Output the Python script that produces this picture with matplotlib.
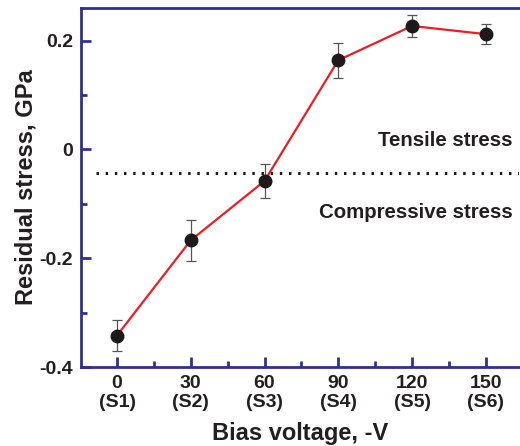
import matplotlib
matplotlib.use("Agg")
import matplotlib.pyplot as plt
from matplotlib.ticker import MultipleLocator

# data
bias = [0, 30, 60, 90, 120, 150]
samples = ["S1", "S2", "S3", "S4", "S5", "S6"]
stress = [-0.342, -0.167, -0.058, 0.164, 0.227, 0.212]
stress_err = [0.029, 0.038, 0.031, 0.032, 0.021, 0.018]
boundary = -0.044

plt.rcParams['font.family'] = ['Liberation Sans', 'DejaVu Sans']
plt.rcParams['font.weight'] = 'bold'

navy = '#2e3192'

fig = plt.figure(figsize=(5.2, 4.46), dpi=100)
ax = fig.add_axes([0.156, 0.177, 0.842, 0.805])

ax.errorbar(bias, stress, yerr=stress_err, fmt='none', ecolor='#555555',
            elinewidth=0.9, capsize=3.5, capthick=0.9, zorder=2)
ax.plot(bias, stress, color='#ee1c25', lw=1.6, zorder=3)
ax.plot(bias, stress, 'o', color='#1e1a1b', ms=9, zorder=4)

ax.plot([-8.5, 163.5], [boundary, boundary], ls=(0, (0.8, 2.2)),
        color='#1e1a1b', lw=2.2, zorder=1)

ax.text(161, 0.016, 'Tensile stress', ha='right', va='center',
        fontsize=14.7, fontweight='bold', color='#231f20')
ax.text(161, -0.116, 'Compressive stress', ha='right', va='center',
        fontsize=14.7, fontweight='bold', color='#231f20')

ax.set_xlim(-14.6, 163.5)
ax.set_ylim(-0.4, 0.26)
ax.set_xticks(bias)
ax.set_xticklabels([f"{b}\n({s})" for b, s in zip(bias, samples)],
                   linespacing=1.1)
ax.xaxis.set_minor_locator(MultipleLocator(15))
ax.set_yticks([-0.4, -0.2, 0, 0.2])
ax.set_yticklabels(['-0.4', '-0.2', '0', '0.2'])
ax.yaxis.set_minor_locator(MultipleLocator(0.1))

for side in ['left', 'bottom', 'top', 'right']:
    ax.spines[side].set_color(navy)
    ax.spines[side].set_linewidth(2)
ax.spines['right'].set_visible(False)

ax.tick_params(which='both', direction='in', color=navy, width=2,
               top=False, right=False)
ax.tick_params(which='major', length=7, labelsize=14, pad=6,
               labelcolor='#231f20')
ax.tick_params(which='minor', length=4)

ax.set_xlabel('Bias voltage, -V', fontsize=17, fontweight='bold',
              color='#231f20', labelpad=8)
ax.set_ylabel('Residual stress, GPa', fontsize=17, fontweight='bold',
              color='#231f20', labelpad=1)

fig.savefig('out.png', dpi=100)
